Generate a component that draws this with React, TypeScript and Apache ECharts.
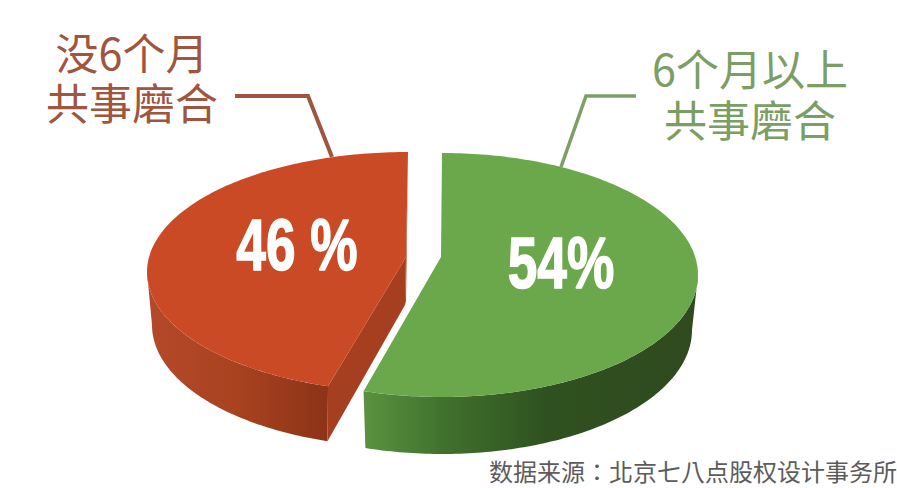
import React, { useEffect, useRef } from "react";
import * as echarts from "echarts";

const categories = ["6个月以上共事磨合", "没6个月共事磨合"];
const shareValues = [54, 46];
const shareLabels = ["54%", "46 %"];
const sourceNote = "数据来源：北京七八点股权设计事务所";

const SKEW = 3.5;
const warp = (deg: number) => deg + SKEW * Math.sin((deg * Math.PI) / 360) ** 2;
const slices = [
  {
    apex: [441, 257], top: { cx: 442, cy: 275, rx: 256, ry: 122 }, bottom: { cx: 442, cy: 330, rx: 250, ry: 124 },
    face: "#6ba84b", edge: "#7fb562",
    stops: [[0, "#5a9240"], [0.25, "#3f702c"], [0.55, "#2f5120"], [1, "#2f4a1e"]],
    label: [561, 263], inner: null,
  },
  {
    apex: [406, 257], top: { cx: 408, cy: 272, rx: 261, ry: 120 }, bottom: { cx: 405, cy: 325, rx: 253, ry: 122 },
    face: "#c94a24", edge: "#e58a66",
    stops: [[0, "#b5492a"], [0.5, "#a8421f"], [1, "#8c3318"]],
    label: [297, 245], inner: [405, 305],
  },
];

const pt = (e: any, deg: number) => {
  const r = (deg * Math.PI) / 180;
  return [e.cx + e.rx * Math.sin(r), e.cy - e.ry * Math.cos(r)];
};
const arc = (e: any, a0: number, a1: number) => {
  const n = Math.max(2, Math.ceil(Math.abs(a1 - a0)));
  return Array.from({ length: n + 1 }, (_, i) => pt(e, a0 + ((a1 - a0) * i) / n));
};

const renderItem = (params: any, api: any) => {
  const i = params.dataIndex;
  const total = shareValues.reduce((a, b) => a + b, 0);
  const before = shareValues.slice(0, i).reduce((a, b) => a + b, 0);
  const a0 = warp((before / total) * 360);
  const a1 = warp(((before + api.value(0)) / total) * 360);
  const s = slices[i];
  const w0 = Math.max(a0, 90);
  const w1 = Math.min(a1, 270);
  const wallPts = [...arc(s.top, w0, w1), ...arc(s.bottom, w1, w0)];
  const children: any[] = [
    {
      type: "polygon",
      shape: { points: wallPts },
      style: {
        fill: new echarts.graphic.LinearGradient(0, 0, 1, 0,
          s.stops.map(([offset, color]) => ({ offset: offset as number, color: color as string }))),
      },
    },
  ];
  if (s.inner) {
    children.push({
      type: "polygon",
      shape: { points: [s.apex, pt(s.top, a0), pt(s.bottom, a0), s.inner] },
      style: { fill: "#a53f20" },
    });
    children.push({
      type: "polygon",
      shape: { points: [s.apex, s.inner, [s.inner[0] + 1, s.inner[1] - 4], [s.apex[0] + 2, s.apex[1] - 100]] },
      style: { fill: "#a53f20" },
    });
  }
  children.push({
    type: "polygon",
    shape: { points: [s.apex, ...arc(s.top, a0, a1)] },
    style: { fill: s.face },
  });
  children.push({
    type: "text",
    x: s.label[0],
    y: s.label[1],
    scaleX: 0.74,
    style: {
      text: shareLabels[i],
      fill: "#ffffff",
      stroke: "#ffffff",
      lineWidth: 1.5,
      font: 'bold 72px "Liberation Sans", sans-serif',
      align: "center",
      verticalAlign: "middle",
    },
  });
  return { type: "group", children };
};

const cjk = '"Noto Sans CJK TC", "Noto Sans CJK SC", "Noto Sans", sans-serif';
const block = (x: number, y: number, text: string, fill: string, lineHeight: number) => ({
  type: "text",
  x,
  y,
  style: { text, fill, font: `43px ${cjk}`, lineHeight, align: "center", verticalAlign: "middle" },
});
const leader = (points: number[][], stroke: string, lineWidth: number) => ({
  type: "polyline",
  shape: { points },
  style: { stroke, lineWidth, fill: "none" },
});

const App = () => {
  const ref = useRef<HTMLDivElement>(null);
  useEffect(() => {
    document.body.style.margin = "0";
    const chart = echarts.init(ref.current!, null, { renderer: "svg" });
    chart.setOption({
      animation: false,
      backgroundColor: "#ffffff",
      series: [
        {
          type: "custom",
          coordinateSystem: "none",
          renderItem,
          data: shareValues.map((value, i) => ({ name: categories[i], value })),
        },
      ],
      graphic: [
        leader([[235, 96], [308, 96], [332, 157]], "#a0553f", 4),
        leader([[636, 96], [586, 96], [561, 167]], "#7e9e68", 3.5),
        block(132, 76, "没6个月\n共事磨合", "#a0553f", 50),
        block(750, 92, "6个月以上\n共事磨合", "#7a9e63", 51),
        {
          type: "text",
          x: 693,
          y: 470,
          style: { text: sourceNote, fill: "#5c5c5c", font: `24px ${cjk}`, align: "center", verticalAlign: "middle" },
        },
      ],
    });
    return () => chart.dispose();
  }, []);
  return <div ref={ref} style={{ width: 897, height: 488 }} />;
};

export default App;
